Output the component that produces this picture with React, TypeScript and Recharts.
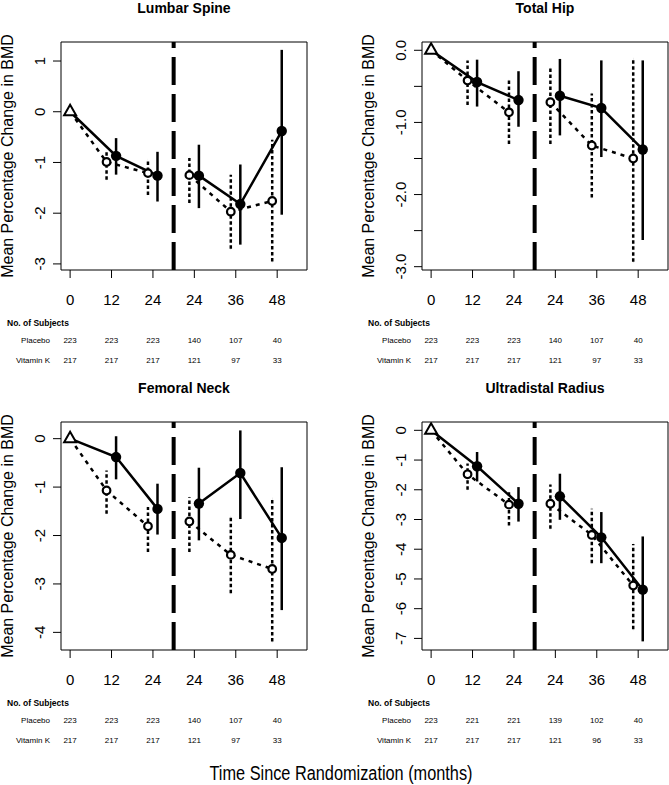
import React from "react";
import {
  ComposedChart, Line, Scatter, XAxis, YAxis,
  ErrorBar, ReferenceLine, ReferenceArea,
} from "recharts";

const visitLabels = ["0", "12", "24", "24", "36", "48"];
const visitSlots = [0, 1, 2, 3, 4, 5];
const groupNames = ["Placebo", "Vitamin K"];
const siteNames = ["Lumbar Spine", "Total Hip", "Femoral Neck", "Ultradistal Radius"];
const baselineChange = 0;

// [mean, lower, upper] at 12, 24 | 24, 36, 48 months
const spinePlacebo = [[-0.99, -1.34, -0.78], [-1.21, -1.64, -0.95], [-1.25, -1.8, -0.91], [-1.97, -2.7, -1.24], [-1.76, -2.95, -0.55]];
const spineVitK = [[-0.87, -1.24, -0.52], [-1.26, -1.77, -0.79], [-1.26, -1.9, -0.65], [-1.82, -2.62, -1.04], [-0.38, -2.03, 1.22]];
const hipPlacebo = [[-0.42, -0.76, -0.14], [-0.86, -1.3, -0.42], [-0.72, -1.3, -0.25], [-1.32, -2.04, -0.6], [-1.5, -2.93, -0.12]];
const hipVitK = [[-0.44, -0.78, -0.13], [-0.69, -1.06, -0.29], [-0.63, -1.18, -0.12], [-0.8, -1.48, -0.14], [-1.375, -2.63, -0.14]];
const neckPlacebo = [[-1.07, -1.55, -0.66], [-1.81, -2.34, -1.41], [-1.71, -2.34, -1.21], [-2.4, -3.19, -1.62], [-2.69, -4.19, -1.24]];
const neckVitK = [[-0.38, -0.84, 0.05], [-1.45, -1.98, -0.93], [-1.34, -2.1, -0.6], [-0.71, -1.66, 0.17], [-2.05, -3.54, -0.59]];
const radiusPlacebo = [[-1.48, -2.0, -1.12], [-2.5, -3.2, -2.08], [-2.47, -3.31, -1.82], [-3.52, -4.47, -2.64], [-5.22, -6.69, -3.82]];
const radiusVitK = [[-1.21, -1.72, -0.73], [-2.47, -3.07, -1.91], [-2.22, -3.01, -1.46], [-3.6, -4.47, -2.75], [-5.36, -7.1, -3.57]];

// subjects per visit
const placeboN = [223, 223, 223, 140, 107, 40];
const vitKN = [217, 217, 217, 121, 97, 33];
const radiusPlaceboN = [223, 221, 221, 139, 102, 40];
const radiusVitKN = [217, 217, 217, 121, 96, 33];

const spineTicks = [-3, -2, -1, 0, 1];
const hipTicks = [-3, -2.5, -2, -1.5, -1, -0.5, 0];
const neckTicks = [-4, -3, -2, -1, 0];
const radiusTicks = [-7, -6, -5, -4, -3, -2, -1, 0];

const FONT = "'Liberation Sans', Arial, Helvetica, sans-serif";
const xDomain: [number, number] = [-0.22, 5.72];
const placeboShift = -0.12;
const vitKShift = 0.11;
const PLOT_LEFT = 61;
const PLOT_W = 246;

const intFmt = (v: number) => String(v);
const hipFmt = (v: number) => (Number.isInteger(v) ? v.toFixed(1) : "");

function toPoints(rows: number[][], shift: number) {
  return rows.map((r, i) => ({
    x: visitSlots[i + 1] + shift,
    y: r[0],
    err: [r[0] - r[1], r[2] - r[0]],
  }));
}

function firstLeg(rows: number[][], shift: number) {
  return [
    { x: visitSlots[0], y: baselineChange },
    ...rows.slice(0, 2).map((r, i) => ({ x: visitSlots[i + 1] + shift, y: r[0] })),
  ];
}

function secondLeg(rows: number[][], shift: number) {
  return rows.slice(2).map((r, i) => ({ x: visitSlots[i + 3] + shift, y: r[0] }));
}

function RotatedTick(props: any) {
  const { x, y, payload, fmt } = props;
  return (
    <text x={x} y={y} transform={`rotate(-90 ${x} ${y})`} textAnchor="middle"
      fontSize={15} fontFamily={FONT} fill="#000">
      {fmt(payload.value)}
    </text>
  );
}

const OpenDot = (p: any) => (
  <circle cx={p.cx} cy={p.cy} r={3.8} fill="#fff" stroke="#000" strokeWidth={2.2} />
);
const FilledDot = (p: any) => <circle cx={p.cx} cy={p.cy} r={5.2} fill="#000" />;
const TriangleMark = (p: any) => (
  <polygon
    points={`${p.cx},${p.cy - 7} ${p.cx - 6},${p.cy + 3.5} ${p.cx + 6},${p.cy + 3.5}`}
    fill="#fff" stroke="#000" strokeWidth={2}
  />
);

interface PanelProps {
  left: number;
  top: number;
  yDomain: [number, number];
  yTicks: number[];
  yFmt: (v: number) => string;
  placebo: number[][];
  vitK: number[][];
}

function Panel({ left, top, yDomain, yTicks, yFmt, placebo, vitK }: PanelProps) {
  return (
    <div style={{ position: "absolute", left, top }}>
      <ComposedChart width={320} height={310} margin={{ top: 42, right: 13, left: 0, bottom: 0 }}>
        <XAxis
          type="number" dataKey="x" domain={xDomain} allowDataOverflow
          ticks={visitSlots} interval={0} tickFormatter={(v) => visitLabels[v]}
          axisLine={false} tickLine={{ stroke: "#000" }} tickSize={8} tickMargin={16}
          height={40} tick={{ fill: "#000", fontSize: 15, fontFamily: FONT }}
        />
        <YAxis
          type="number" dataKey="y" domain={yDomain} allowDataOverflow
          ticks={yTicks} interval={0} width={61}
          axisLine={false} tickLine={{ stroke: "#000" }} tickSize={8} tickMargin={8}
          tick={(p: any) => <RotatedTick {...p} fmt={yFmt} />}
        />
        <ReferenceArea x1={xDomain[0]} x2={xDomain[1]} y1={yDomain[0]} y2={yDomain[1]}
          fill="none" stroke="#000" strokeWidth={1} />
        <ReferenceLine x={2.5} stroke="#000" strokeWidth={4} strokeDasharray="28 9" />
        <Line data={firstLeg(placebo, placeboShift)} dataKey="y" type="linear" stroke="#000"
          strokeWidth={2.5} strokeDasharray="4 5" dot={false} activeDot={false} isAnimationActive={false} />
        <Line data={secondLeg(placebo, placeboShift)} dataKey="y" type="linear" stroke="#000"
          strokeWidth={2.5} strokeDasharray="4 5" dot={false} activeDot={false} isAnimationActive={false} />
        <Line data={firstLeg(vitK, vitKShift)} dataKey="y" type="linear" stroke="#000"
          strokeWidth={2.5} dot={false} activeDot={false} isAnimationActive={false} />
        <Line data={secondLeg(vitK, vitKShift)} dataKey="y" type="linear" stroke="#000"
          strokeWidth={2.5} dot={false} activeDot={false} isAnimationActive={false} />
        <Scatter data={toPoints(placebo, placeboShift)} dataKey="y" shape={OpenDot} isAnimationActive={false}>
          <ErrorBar dataKey="err" direction="y" width={0} stroke="#000" strokeWidth={2.5}
            strokeDasharray="3.5 2.5" isAnimationActive={false} />
        </Scatter>
        <Scatter data={toPoints(vitK, vitKShift)} dataKey="y" shape={FilledDot} isAnimationActive={false}>
          <ErrorBar dataKey="err" direction="y" width={0} stroke="#000" strokeWidth={2.5}
            isAnimationActive={false} />
        </Scatter>
        <Scatter data={[{ x: visitSlots[0], y: baselineChange }]} dataKey="y" shape={TriangleMark}
          isAnimationActive={false} />
      </ComposedChart>
    </div>
  );
}

const slotX = (s: number) => PLOT_LEFT + ((s - xDomain[0]) / (xDomain[1] - xDomain[0])) * PLOT_W;

function PanelText({ dx, dy, title, nPlacebo, nVitK }: {
  dx: number; dy: number; title: string; nPlacebo: number[]; nVitK: number[];
}) {
  return (
    <g transform={`translate(${dx} ${dy})`} fontFamily={FONT} fill="#000">
      <text x={184} y={12.5} textAnchor="middle" fontSize={14} fontWeight="bold">{title}</text>
      <text x={13} y={156} transform="rotate(-90 13 156)" textAnchor="middle" fontSize={16}>
        Mean Percentage Change in BMD
      </text>
      <text x={7} y={326} fontSize={8.5} fontWeight="bold">No. of Subjects</text>
      <text x={50} y={343} fontSize={8} textAnchor="end">{groupNames[0]}</text>
      <text x={50} y={363} fontSize={8} textAnchor="end">{groupNames[1]}</text>
      {visitSlots.map((s) => (
        <g key={s}>
          <text x={slotX(s)} y={343} fontSize={8} textAnchor="middle">{nPlacebo[s]}</text>
          <text x={slotX(s)} y={363} fontSize={8} textAnchor="middle">{nVitK[s]}</text>
        </g>
      ))}
    </g>
  );
}

export default function App() {
  return (
    <div style={{ position: "absolute", left: 0, top: 0, width: 669, height: 785, overflow: "hidden", background: "#fff" }}>
      <Panel left={0} top={0} yDomain={[-3.12, 1.375]} yTicks={spineTicks} yFmt={intFmt}
        placebo={spinePlacebo} vitK={spineVitK} />
      <Panel left={361} top={0} yDomain={[-3.046, 0.115]} yTicks={hipTicks} yFmt={hipFmt}
        placebo={hipPlacebo} vitK={hipVitK} />
      <Panel left={0} top={380} yDomain={[-4.364, 0.344]} yTicks={neckTicks} yFmt={intFmt}
        placebo={neckPlacebo} vitK={neckVitK} />
      <Panel left={361} top={380} yDomain={[-7.39, 0.28]} yTicks={radiusTicks} yFmt={intFmt}
        placebo={radiusPlacebo} vitK={radiusVitK} />
      <svg width={669} height={785} style={{ position: "absolute", left: 0, top: 0, pointerEvents: "none" }}>
        <PanelText dx={0} dy={0} title={siteNames[0]} nPlacebo={placeboN} nVitK={vitKN} />
        <PanelText dx={361} dy={0} title={siteNames[1]} nPlacebo={placeboN} nVitK={vitKN} />
        <PanelText dx={0} dy={380} title={siteNames[2]} nPlacebo={placeboN} nVitK={vitKN} />
        <PanelText dx={361} dy={380} title={siteNames[3]} nPlacebo={radiusPlaceboN} nVitK={radiusVitKN} />
        <text x={341} y={780} textAnchor="middle" fontSize={20} fontFamily={FONT}
          textLength={263} lengthAdjust="spacingAndGlyphs">
          Time Since Randomization (months)
        </text>
      </svg>
    </div>
  );
}
